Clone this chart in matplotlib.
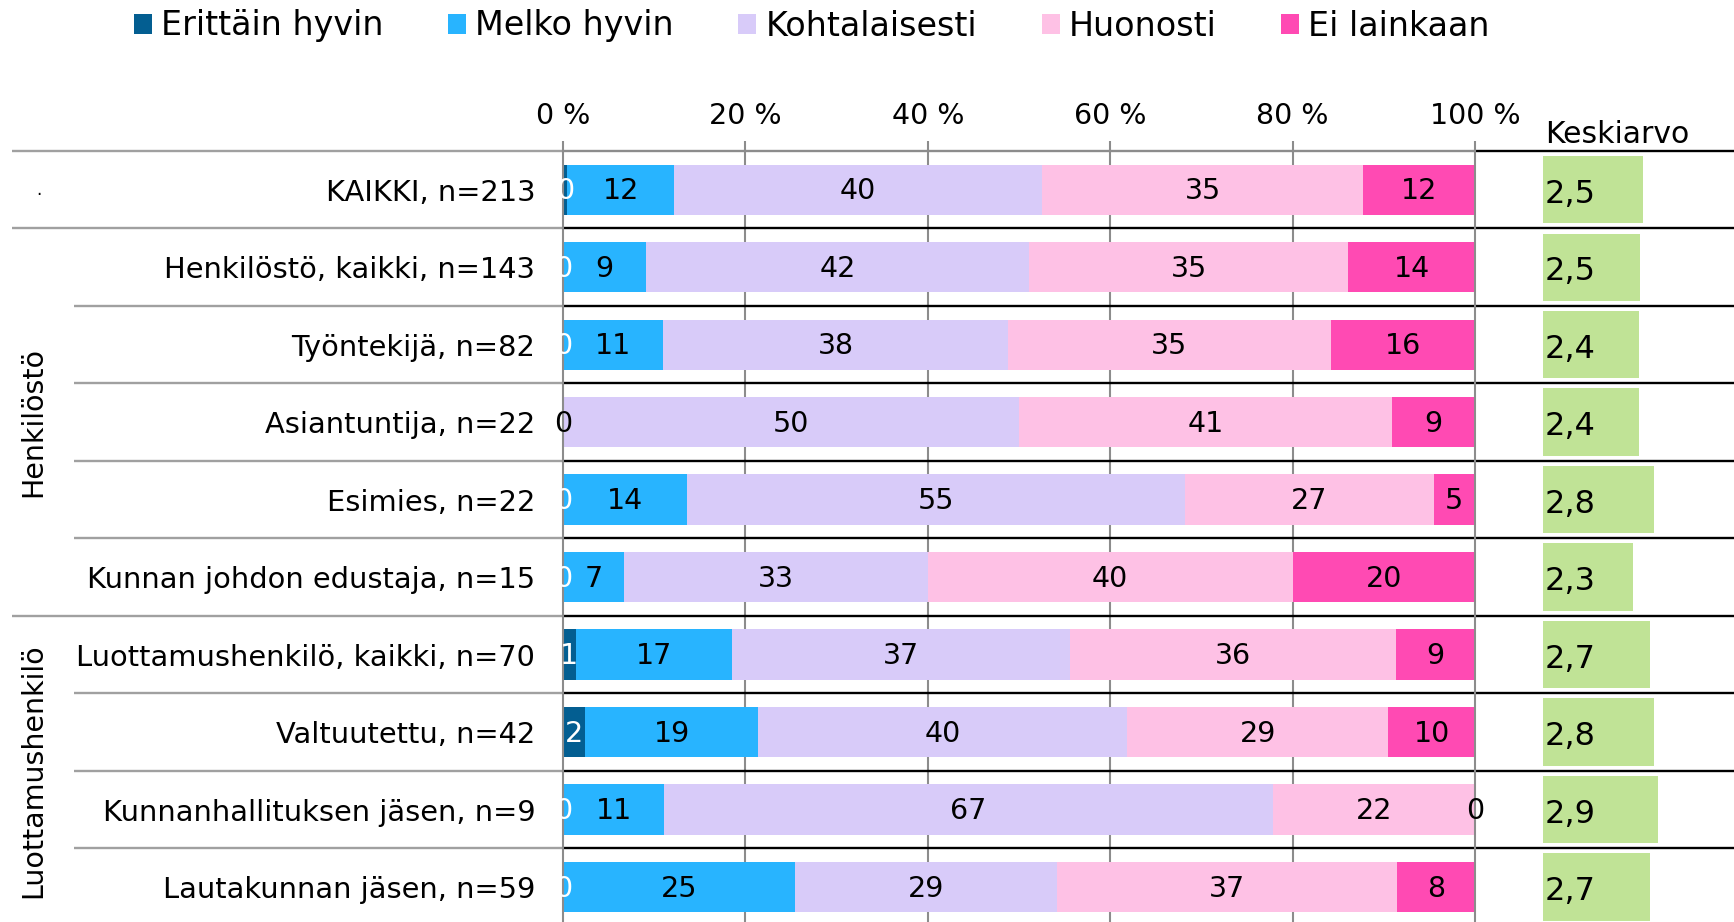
import matplotlib
matplotlib.use('Agg')
import matplotlib.pyplot as plt
from matplotlib.transforms import blended_transform_factory
import numpy as np

plt.rcParams['font.family'] = ['DejaVu Sans']

# ---------------- data ----------------
categories = ["KAIKKI, n=213", "Henkilöstö, kaikki, n=143", "Työntekijä, n=82",
              "Asiantuntija, n=22", "Esimies, n=22", "Kunnan johdon edustaja, n=15",
              "Luottamushenkilö, kaikki, n=70", "Valtuutettu, n=42",
              "Kunnanhallituksen jäsen, n=9", "Lautakunnan jäsen, n=59"]
series_names = ["Erittäin hyvin", "Melko hyvin", "Kohtalaisesti", "Huonosti", "Ei lainkaan"]
erittain_hyvin = [0.47, 0, 0, 0, 0, 0, 1.4, 2.4, 0, 0]
melko_hyvin = [11.7, 9.1, 11.0, 0, 13.6, 6.7, 17.1, 19.0, 11.1, 25.4]
kohtalaisesti = [40.4, 42.0, 37.8, 50.0, 54.55, 33.3, 37.1, 40.48, 66.7, 28.8]
huonosti = [35.2, 35.0, 35.4, 40.9, 27.3, 40.0, 35.7, 28.6, 22.2, 37.3]
ei_lainkaan = [12.2, 14.0, 15.9, 9.1, 4.55, 20.0, 8.6, 9.52, 0, 8.5]
keskiarvo = [2.54, 2.46, 2.43, 2.43, 2.81, 2.27, 2.71, 2.81, 2.90, 2.71]
keskiarvo_title = "Keskiarvo"
group_names = [".", "Henkilöstö", "Luottamushenkilö"]
group_first = [0, 1, 6]
group_last = [0, 5, 9]
tick_values = [0, 20, 40, 60, 80, 100]
tick_labels = ["0 %", "20 %", "40 %", "60 %", "80 %", "100 %"]

series = [erittain_hyvin, melko_hyvin, kohtalaisesti, huonosti, ei_lainkaan]
colors = ['#035e91', '#28b4ff', '#d8cbf9', '#fec1e5', '#ff4ab3']
label_colors = ['white', 'black', 'black', 'black', 'black']
green = '#c0e396'
grid_gray = '#8c8c8c'
sep_gray = '#a0a0a0'

# ---------------- figure ----------------
W, H = 1734, 922
fig = plt.figure(figsize=(W / 100, H / 100), dpi=100)
x0, x100 = 563, 1475
ytop, ybot = 151, 925.8
ax = fig.add_axes([x0 / W, 1 - ybot / H, (x100 - x0) / W, (ybot - ytop) / H])
for s in ax.spines.values():
    s.set_visible(False)

n = len(categories)
y = np.arange(n)
left = np.zeros(n)
handles = []
for vals, col, lc, name in zip(series, colors, label_colors, series_names):
    vals = np.array(vals, dtype=float)
    bc = ax.barh(y, vals, left=left, height=0.65, color=col, label=name, zorder=2,
                 linewidth=0)
    handles.append(bc)
    for yi, v, l in zip(y, vals, left):
        ax.text(l + v / 2, yi + 0.02, f"{v:.0f}", ha='center', va='center',
                fontsize=20.5, color=lc, zorder=4)
    left += vals

ax.set_xlim(0, 100)
ax.set_ylim(n - 0.5, -0.5)

# gridlines
for tv in tick_values:
    z = 3 if tv in (0, 100) else 1
    ax.axvline(tv, color=grid_gray, lw=1.5, zorder=z, clip_on=False)

ax.xaxis.tick_top()
ax.set_xticks(tick_values)
ax.set_xticklabels(tick_labels)
ax.tick_params(axis='x', length=7, width=1.5, color=grid_gray, labelsize=20.5, pad=8)
ax.set_yticks(y)
ax.set_yticklabels(categories)
ax.tick_params(axis='y', length=0, labelsize=20.8, pad=20)

# separators
tr = blended_transform_factory(ax.transAxes, ax.transData)
right_end = (W - x0) / (x100 - x0)
group_start = (11.5 - x0) / (x100 - x0)
inner_start = (74 - x0) / (x100 - x0)
group_bounds = [g - 0.5 for g in group_first]
for b in np.arange(-0.5, n, 1.0):
    xs = group_start if b in group_bounds else inner_start
    ax.plot([xs, 0], [b, b], color=sep_gray, lw=1.7, transform=tr, clip_on=False,
            solid_capstyle='butt', zorder=1)
    if b == -0.5:
        ax.plot([0, 1], [b, b], color=grid_gray, lw=1.7, transform=tr, clip_on=False,
                solid_capstyle='butt', zorder=1)
        ax.plot([1, right_end], [b, b], color='black', lw=1.7, transform=tr,
                clip_on=False, solid_capstyle='butt', zorder=1)
    else:
        ax.plot([0, right_end], [b, b], color='black', lw=1.7, transform=tr,
                clip_on=False, solid_capstyle='butt', zorder=1)

# group labels
gx = (33 - x0) / (x100 - x0)
for name, a, b in zip(group_names, group_first, group_last):
    if name == ".":
        ax.text((39 - x0) / (x100 - x0), (a + b) / 2, name, transform=tr,
                ha='center', va='center', fontsize=12)
    else:
        ax.text(gx, (a + b) / 2, name, transform=tr, rotation=90, ha='center',
                va='center', fontsize=20.5)

# keskiarvo column
px_per_unit = 39.5
kx = 1543
ax2 = fig.add_axes([kx / W, 1 - ybot / H, (W - kx) / W, (ybot - ytop) / H])
ax2.patch.set_visible(False)
ax2.axis('off')
ax2.set_xlim(0, (W - kx) / px_per_unit)
ax2.set_ylim(n - 0.5, -0.5)
ax2.barh(y, keskiarvo, left=0, height=0.87, color=green, linewidth=0)
for yi, v in zip(y, keskiarvo):
    ax2.text(0.05, yi + 0.06, f"{v:.1f}".replace('.', ','), ha='left', va='center',
             fontsize=23)
ax2.text(0.05, -0.71, keskiarvo_title, ha='left', va='center', fontsize=21.5,
         clip_on=False)

# legend
fig.legend(handles=handles, labels=series_names, ncol=5, loc='center left',
           bbox_to_anchor=(134 / W, 1 - 26 / H), frameon=False, fontsize=24,
           handlelength=0.54, handleheight=0.54, handletextpad=0.27,
           columnspacing=1.94, borderpad=0, borderaxespad=0)

fig.savefig('out.png', dpi=100)
